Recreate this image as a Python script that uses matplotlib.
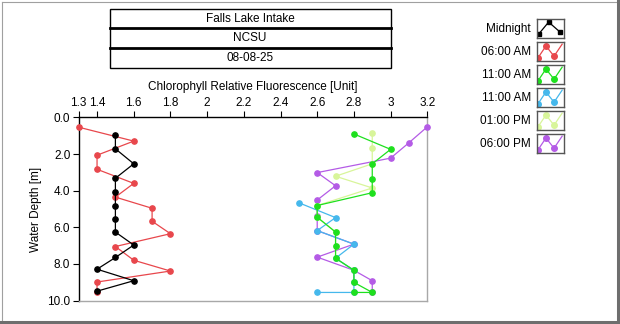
import matplotlib
matplotlib.use("Agg")
import matplotlib.pyplot as plt
from matplotlib.patches import Rectangle
from matplotlib.lines import Line2D

plt.rcParams['font.family'] = ['Liberation Sans', 'DejaVu Sans']

# --- data ---
site_lines = ["Falls Lake Intake", "NCSU", "08-08-25"]
series_names = ["Midnight", "06:00 AM", "11:00 AM", "11:00 AM", "01:00 PM", "06:00 PM"]
series_colors = ["#000000", "#e8474c", "#1ee01e", "#45b8ec", "#d8f59a", "#b45be6"]

midnight_depth = [0.94, 1.71, 2.53, 3.32, 4.09, 4.86, 5.52, 6.26, 6.97, 7.65, 8.29, 8.92, 9.49]
midnight_val = [1.5, 1.5, 1.6, 1.5, 1.5, 1.5, 1.5, 1.5, 1.6, 1.5, 1.4, 1.6, 1.4]

am6_depth = [0.53, 1.29, 2.06, 2.83, 3.60, 4.35, 4.96, 5.67, 6.35, 7.05, 7.80, 8.39, 8.99, 9.52]
am6_val = [1.3, 1.6, 1.4, 1.4, 1.6, 1.5, 1.7, 1.7, 1.8, 1.5, 1.6, 1.8, 1.4, 1.4]

am11_depth = [0.90, 1.74, 2.53, 3.34, 4.11, 4.81, 5.45, 6.26, 7.01, 7.69, 8.35, 9.01, 9.56, 9.56]
am11_val = [2.8, 3.0, 2.9, 2.9, 2.9, 2.6, 2.6, 2.7, 2.7, 2.7, 2.8, 2.8, 2.9, 2.8]

am11b_depth = [4.66, 5.47, 6.18, 6.92, 7.69, 8.35, 9.01, 9.56, 9.56]
am11b_val = [2.5, 2.7, 2.6, 2.8, 2.7, 2.8, 2.8, 2.8, 2.6]

pm1_depth = [0.85, 1.67, 2.53, 3.21, 3.85, 4.81, 5.45, 6.26, 7.01, 7.69, 8.35, 9.01]
pm1_val = [2.9, 2.9, 2.9, 2.7, 2.9, 2.6, 2.6, 2.7, 2.7, 2.7, 2.8, 2.8]

pm6_depth = [0.51, 1.38, 2.22, 3.01, 3.73, 4.51, 5.40, 6.18, 6.92, 7.63, 8.35, 8.92, 9.56]
pm6_val = [3.2, 3.1, 3.0, 2.6, 2.7, 2.6, 2.6, 2.6, 2.8, 2.6, 2.8, 2.9, 2.9]

x_ticks = [1.3, 1.4, 1.6, 1.8, 2.0, 2.2, 2.4, 2.6, 2.8, 3.0, 3.2]
x_ticklabels = ["1.3", "1.4", "1.6", "1.8", "2", "2.2", "2.4", "2.6", "2.8", "3", "3.2"]
y_ticks = [0, 2, 4, 6, 8, 10]

all_depths = [midnight_depth, am6_depth, am11_depth, am11b_depth, pm1_depth, pm6_depth]
all_vals = [midnight_val, am6_val, am11_val, am11b_val, pm1_val, pm6_val]

W, H = 620, 324
fig = plt.figure(figsize=(W / 100, H / 100), dpi=100)

def fx(px):
    return px / W

def fy(py):
    return 1 - py / H

# outer frame
fig.add_artist(Line2D([fx(1.5), fx(618)], [fy(1.5), fy(1.5)], color="#a0a0a0", lw=0.8))
fig.add_artist(Line2D([fx(1.5), fx(1.5)], [fy(1.5), fy(322)], color="#a0a0a0", lw=0.8))
fig.add_artist(Line2D([fx(618), fx(618)], [fy(1), fy(322.5)], color="#6e6e6e", lw=2.2))
fig.add_artist(Line2D([fx(1), fx(618.5)], [fy(322), fy(322)], color="#6e6e6e", lw=2.2))

# header box
bx0, bx1 = 109.5, 390.5
rows = [9, 28, 48, 67.5]
fig.add_artist(Rectangle((fx(bx0), fy(rows[-1])), fx(bx1) - fx(bx0), fy(rows[0]) - fy(rows[-1]),
                         fill=False, ec="black", lw=1.0))
for r in rows[1:-1]:
    fig.add_artist(Line2D([fx(bx0), fx(bx1)], [fy(r), fy(r)], color="black", lw=2.0))
for i, t in enumerate(site_lines):
    fig.text(fx((bx0 + bx1) / 2), fy((rows[i] + rows[i + 1]) / 2), t,
             ha="center", va="center", fontsize=8.5)

# main axes
ax = fig.add_axes([fx(78.7), fy(300.5), fx(427.3) - fx(78.7), fy(117.5) - fy(300.5)])
nseries = len(series_names)
for i in range(nseries):
    ax.plot(all_vals[i], all_depths[i], color=series_colors[i], lw=0.9,
            marker="o", ms=3.8, mec=series_colors[i], zorder=10 - i, clip_on=False)

ax.set_xlim(1.3, 3.2)
ax.set_ylim(10, 0)
ax.xaxis.tick_top()
ax.xaxis.set_label_position("top")
ax.set_xticks(x_ticks)
ax.set_xticklabels(x_ticklabels)
ax.set_yticks(y_ticks)
ax.set_yticklabels(["%.1f" % v for v in y_ticks])
ax.tick_params(axis="both", labelsize=8.5, length=4, width=0.8, color="black", pad=2)
ax.set_xlabel("Chlorophyll Relative Fluorescence [Unit]", fontsize=8.5, labelpad=5)
ax.set_ylabel("Water Depth [m]", fontsize=8.5, labelpad=4)
ax.spines["top"].set_color("black")
ax.spines["left"].set_color("black")
ax.spines["right"].set_color("#a8a8a8")
ax.spines["bottom"].set_color("#a8a8a8")
for s in ax.spines.values():
    s.set_linewidth(1.0)

# legend
box_x0, box_x1 = 536.5, 563.5
for i in range(nseries):
    top = 19.3 + i * 23.0
    bot = top + 18.5
    lax = fig.add_axes([fx(box_x0), fy(bot), fx(box_x1) - fx(box_x0), fy(top) - fy(bot)])
    lax.set_xlim(0, 1)
    lax.set_ylim(0, 1)
    lax.set_xticks([])
    lax.set_yticks([])
    for s in lax.spines.values():
        s.set_color("#555555")
        s.set_linewidth(1.0)
    if i == 0:
        lax.plot([0.08, 0.45, 0.88], [0.2, 0.85, 0.3], color="black", lw=0.9)
        lax.plot([0.08, 0.45, 0.88], [0.2, 0.85, 0.3], ls="none", marker="s",
                 ms=3.5, color="black")
    else:
        c = series_colors[i]
        lax.plot([0.05, 0.35, 0.65, 0.95], [0.15, 0.8, 0.25, 0.9], color=c, lw=0.9)
        lax.plot([0.05, 0.35, 0.65], [0.15, 0.8, 0.25], ls="none", marker="o",
                 ms=4, color=c, clip_on=True)
    fig.text(fx(531), fy((top + bot) / 2), series_names[i], ha="right", va="center",
             fontsize=8.5)

fig.savefig("out.png", dpi=100)
